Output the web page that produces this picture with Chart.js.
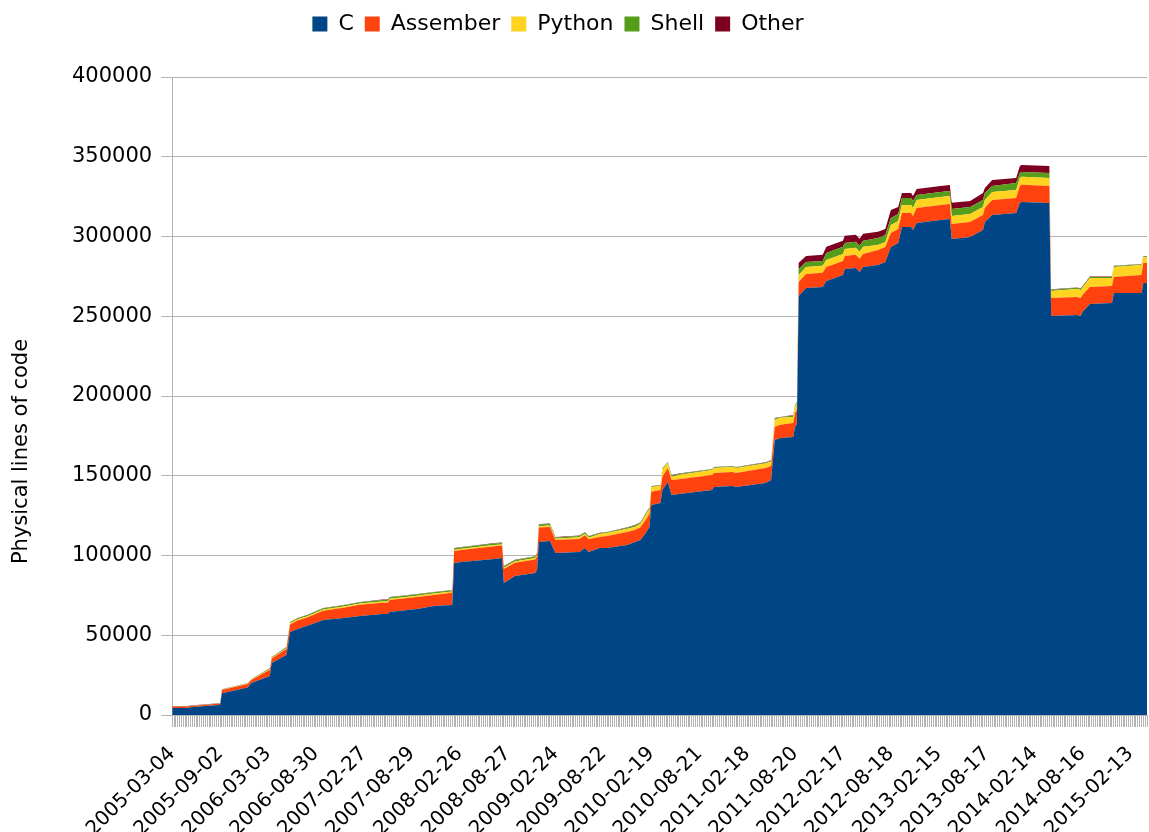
<!DOCTYPE html>
<html><head><meta charset="utf-8">
<script src="https://cdn.jsdelivr.net/npm/chart.js@4.4.1/dist/chart.umd.min.js"></script>
<style>html,body{margin:0;padding:0;background:#fff;}canvas{display:block;}</style>
</head><body>
<canvas id="c" width="1149" height="832"></canvas>
<script>
// week index of each read breakpoint (weekly samples, label every 26 weeks)
const weeks = [0,8,10,25,26,27,41,43,53,54,62,64,68,73,82,93,102,114,117,118,133,142,152,153,157,175,179,180,186,197,198,199,205,208,221,224,226,232,236,247,251,254,257,259,260,265,266,269,271,275,293,294,304,306,322,325,327,330,337,338,339,340,344,353,355,364,365,371,373,375,383,387,390,394,396,401,402,404,417,422,423,433,440,441,445,458,460,461,476,477,491,493,494,498,510,511,526,527,529];
const cLines = [4400,4400,4800,6300,6300,13600,17200,20100,24500,32600,
37600,52000,53900,55800,59600,60800,62100,63300,63300,64600,
66500,68300,69000,95300,95900,97800,98400,82800,87200,89000,
90900,108500,109100,101600,102200,104700,102200,104700,104700,106600,
108500,109500,114100,117900,131700,132900,141100,146100,137900,138600,
141100,143000,143600,143000,145500,147300,172400,173700,174300,180600,
182500,262700,267700,268400,272100,275900,279600,280300,277800,280900,
282200,284000,293400,295900,306000,306000,304100,308500,310400,311000,
298500,299700,304100,309100,313500,314700,321000,321700,321000,250200,
250800,250200,252700,257700,258300,264600,264600,270900,270900];
const asmLines = [1000,1000,900,800,900,2000,2200,1800,3800,2800,
3800,4800,5300,5200,5700,6400,7000,7000,7000,7500,
7500,7000,7600,7500,7600,8000,7800,8800,8200,8500,
8500,9000,8800,8100,8200,8000,8000,6900,7500,8100,
7500,8000,8200,8200,8200,8200,8200,8800,9400,9200,
9400,8800,8800,8800,9400,8800,8200,8200,8800,8800,
8800,8800,8800,8800,8800,8800,8200,8200,8200,8200,
9400,9400,8800,8800,8800,8800,8800,9400,9400,9400,
9400,9400,9400,8800,9400,9400,10700,10700,10700,11300,
11300,11300,10700,10700,10700,10000,11300,12500,12500];
const pyLines = [0,0,0,0,0,200,300,300,500,500,
500,700,800,800,800,800,800,900,900,800,
800,800,800,700,700,800,700,700,800,900,
900,900,900,800,1000,1000,1000,1900,1900,2000,
1900,2200,3100,3100,3100,2500,5000,3100,1900,2700,
3100,3100,3100,3100,2800,2800,4400,4400,3800,3800,
3800,4400,4400,4400,4400,4400,4400,4400,4400,4400,
3100,3100,5000,5000,5000,5000,5000,5000,5000,5000,
5000,5000,5000,5000,5000,5000,5000,5000,5000,4400,
5000,5000,4400,5600,5000,6300,6300,3800,3800];
const shellLines = [150,150,150,150,150,250,300,300,500,400,
500,600,600,700,800,800,800,900,900,900,
900,800,800,900,900,1000,900,800,800,900,
900,1000,1000,800,800,800,800,500,500,700,
900,700,800,800,400,400,400,400,800,600,
400,400,400,400,500,500,800,400,800,800,
800,3800,3100,3100,4400,4400,3800,3800,3800,3800,
4400,4400,4400,4400,4400,4400,4400,3100,3100,3100,
4400,4400,4400,4400,3800,4400,3100,3100,3100,700,
700,700,900,600,600,600,400,400,400];
const otherLines = [50,50,50,50,50,50,100,100,200,100,
200,200,200,200,200,200,200,300,300,200,
200,200,200,300,300,200,300,300,300,300,
300,300,300,300,300,300,300,200,200,300,
400,300,300,300,200,200,200,200,500,300,
200,200,200,200,300,300,400,200,400,400,
400,3800,3800,3800,3800,3800,4400,4400,4400,4400,
3800,3800,5000,4400,3100,3100,3100,3800,3800,3800,
3800,3800,4400,3100,3800,3100,4400,4400,4400,300,
300,300,300,300,300,200,200,200,200];
const seriesNames = ['C','Assember','Python','Shell','Other'];
const tickLabels = ['2005-03-04','2005-09-02','2006-03-03','2006-08-30','2007-02-27','2007-08-29','2008-02-26','2008-08-27','2009-02-24','2009-08-22','2010-02-19','2010-08-21','2011-02-18','2011-08-20','2012-02-17','2012-08-18','2013-02-15','2013-08-17','2014-02-14','2014-08-16','2015-02-13'];
const labelEvery = 26;
const yTitle = 'Physical lines of code';

const colors = ['#004586','#ff420e','#ffd320','#579d1c','#7e0021'];
const allSeries = [cLines, asmLines, pyLines, shellLines, otherLines];
const FONT = '"DejaVu Sans", sans-serif';
Chart.defaults.font.family = FONT;
Chart.defaults.color = '#000';

const datasets = allSeries.map((vals, k) => ({
  label: seriesNames[k],
  data: weeks.map((w, i) => ({x: w, y: vals[i]})),
  backgroundColor: colors[k],
  borderColor: colors[k],
  borderWidth: 0,
  pointRadius: 0,
  tension: 0,
  fill: k === 0 ? 'origin' : '-1'
}));

const lastWeek = weeks[weeks.length - 1];

const yTitlePlugin = {
  id: 'yTitle',
  afterDraw(chart) {
    const ctx = chart.ctx, a = chart.chartArea;
    ctx.save();
    ctx.font = '21px ' + FONT;
    ctx.fillStyle = '#000';
    ctx.textAlign = 'center';
    ctx.textBaseline = 'middle';
    ctx.translate(22, (a.top + chart.height) / 2 - 3);
    ctx.rotate(-Math.PI / 2);
    ctx.fillText(yTitle, 0, 0);
    ctx.restore();
  }
};

// extra room below the legend and horizontal centring like the original
const legendSpacer = {
  id: 'legendSpacer',
  beforeLayout(chart) {
    const lg = chart.legend;
    if (lg && !lg._spacerPatched) {
      const fit = lg.fit;
      lg.fit = function () { fit.call(this); this.height += 32; };
      lg._spacerPatched = true;
    }
  },
  afterLayout(chart) {
    const lg = chart.legend;
    if (!lg) return;
    const d = 558 - (lg.left + lg.right) / 2;
    lg.left += d;
    lg.right += d;
  }
};

new Chart(document.getElementById('c'), {
  type: 'line',
  data: { datasets },
  plugins: [yTitlePlugin, legendSpacer],
  options: {
    responsive: false,
    animation: false,
    devicePixelRatio: 1,
    layout: { padding: { left: 63, right: 2, top: 2, bottom: 0 } },
    plugins: {
      legend: {
        position: 'top',
        labels: { boxWidth: 15, boxHeight: 15, padding: 11, font: { size: 22 }, color: '#000' }
      },
      tooltip: { enabled: false }
    },
    scales: {
      x: {
        type: 'linear',
        min: 0,
        max: lastWeek,
        afterBuildTicks: (scale) => {
          const t = [];
          for (let i = 0; i <= lastWeek; i++) t.push({ value: i });
          scale.ticks = t;
        },
        afterFit: (scale) => { scale.paddingRight = 0; scale.height = 117; },
        ticks: {
          autoSkip: false,
          maxRotation: 45,
          minRotation: 45,
          padding: 15,
          font: { size: 20 },
          color: '#000',
          callback: (v) => (v % labelEvery === 0 && tickLabels[v / labelEvery]) ? tickLabels[v / labelEvery] : ''
        },
        grid: { drawOnChartArea: false, drawTicks: true, tickLength: 12, color: '#b3b3b3' },
        border: { display: true, color: '#b3b3b3' }
      },
      y: {
        stacked: true,
        min: 0,
        max: 400000,
        ticks: { stepSize: 50000, padding: 9, font: { size: 21 }, color: '#000', callback: (v) => String(v) },
        grid: { color: '#b3b3b3', tickLength: 11 },
        border: { display: true, color: '#b3b3b3' }
      }
    }
  }
});
</script>
</body></html>
